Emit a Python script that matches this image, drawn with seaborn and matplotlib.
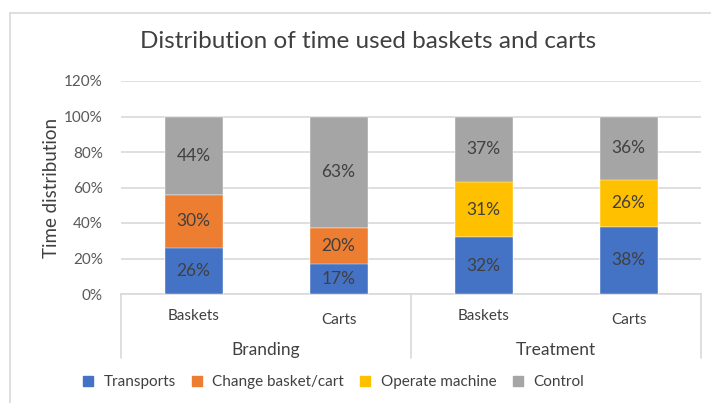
import numpy as np
import pandas as pd
import matplotlib
matplotlib.use("Agg")
import matplotlib.pyplot as plt
import matplotlib.transforms as mtransforms
from matplotlib.lines import Line2D
import seaborn as sns

# ---- data ----
groups = ["Branding", "Treatment"]
items = ["Baskets", "Carts", "Baskets", "Carts"]
item_group = ["Branding", "Branding", "Treatment", "Treatment"]
series = ["Transports", "Change basket/cart", "Operate machine", "Control"]
transports = [26, 17, 32, 38]
change_basket = [30, 20, 0, 0]
operate_machine = [0, 0, 31, 26]
control = [44, 63, 37, 36]
colors = ["#4472C4", "#ED7D31", "#FFC000", "#A5A5A5"]
yticks = [0, 20, 40, 60, 80, 100, 120]

sns.set_theme(style="white")
plt.rcParams["font.family"] = ["Lato", "DejaVu Sans"]

keys = [f"{g}|{i}" for g, i in zip(item_group, items)]
layers = [transports, change_basket, operate_machine, control]
df = pd.DataFrame({"key": keys})
for name, vals in zip(series, layers):
    df[name] = vals

fig = plt.figure(figsize=(7.11, 4.03), dpi=100)
ax = fig.add_axes([121 / 711, 1 - 294 / 403, 580 / 711, 213 / 403])

# cumulative stacks drawn from the top layer down
cum = np.cumsum(np.array(layers, dtype=float), axis=0)
for li in range(len(series) - 1, -1, -1):
    sns.barplot(x=df["key"], y=cum[li], color=colors[li], width=0.4,
                saturation=1, ax=ax, order=keys, zorder=3,
                edgecolor="white", linewidth=0.3)

# data labels
for ci in range(len(keys)):
    bottom = 0
    for li, vals in enumerate(layers):
        v = vals[ci]
        if v > 0:
            ax.text(ci, bottom + v / 2, f"{v}%", ha="center", va="center",
                    fontsize=12.5, color="#404040", zorder=5)
        bottom += v

ax.set_ylim(0, 120)
ax.set_xlim(-0.5, len(keys) - 0.5)
ax.set_yticks(yticks)
ax.set_yticklabels([f"{t}%" for t in yticks], fontsize=11, color="#595959")
ax.tick_params(axis="y", length=0, pad=13)
ax.tick_params(axis="x", length=0)
ax.set_xticklabels([])
ax.set_xlabel("")
ax.yaxis.grid(True, color="#D9D9D9", linewidth=1.2, zorder=0)
ax.set_axisbelow(True)
for s in ["top", "right", "left"]:
    ax.spines[s].set_visible(False)
ax.spines["bottom"].set_color("#D9D9D9")
ax.spines["bottom"].set_linewidth(1.2)
ax.set_ylabel("Time distribution", fontsize=13.5, color="#404040")
ax.yaxis.set_label_coords(-0.105, 0.5)

# category axis box
trans = mtransforms.blended_transform_factory(ax.transData, ax.transAxes)
for xb in [-0.5, 1.5, 3.5]:
    ax.add_line(Line2D([xb, xb], [0, -0.30], transform=trans, color="#D9D9D9",
                       linewidth=1.2, clip_on=False))
item_y = [-0.103, -0.12, -0.103, -0.12]
for ci, it in enumerate(items):
    ax.text(ci, item_y[ci], it, transform=trans, ha="center", va="center",
            fontsize=11, color="#404040")
for gi, g in enumerate(groups):
    ax.text(gi * 2 + 0.5, -0.262, g, transform=trans, ha="center", va="center",
            fontsize=12.5, color="#404040")

# title
fig.text(368 / 711, 1 - 42 / 403, "Distribution of time used baskets and carts",
         ha="center", va="center", fontsize=17.5, color="#404040")

# outer chart frame (top and left edges visible)
fig.add_artist(Line2D([10 / 711, 1], [1 - 13 / 403, 1 - 13 / 403],
                      transform=fig.transFigure, color="#D9D9D9", linewidth=1.2))
fig.add_artist(Line2D([10 / 711, 10 / 711], [0, 1 - 13 / 403],
                      transform=fig.transFigure, color="#D9D9D9", linewidth=1.2))

# legend
handles = [Line2D([0], [0], marker="s", linestyle="none", markersize=6.5,
                  markerfacecolor=c, markeredgecolor=c) for c in colors]
fig.legend(handles, series, loc="center", bbox_to_anchor=(332 / 711, 1 - 382 / 403),
           ncol=4, frameon=False, fontsize=11, labelcolor="#404040",
           handletextpad=0.5, columnspacing=0.9, handlelength=1.0)

fig.savefig("out.png", dpi=100)
